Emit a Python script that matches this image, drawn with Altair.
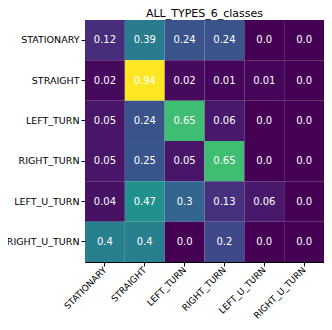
import altair as alt
import pandas as pd

classes = ["STATIONARY", "STRAIGHT", "LEFT_TURN", "RIGHT_TURN", "LEFT_U_TURN", "RIGHT_U_TURN"]
values = [
    [0.12, 0.39, 0.24, 0.24, 0.0, 0.0],
    [0.02, 0.94, 0.02, 0.01, 0.01, 0.0],
    [0.05, 0.24, 0.65, 0.06, 0.0, 0.0],
    [0.05, 0.25, 0.05, 0.65, 0.0, 0.0],
    [0.04, 0.47, 0.3, 0.13, 0.06, 0.0],
    [0.4, 0.4, 0.0, 0.2, 0.0, 0.0],
]
labels = [
    ["0.12", "0.39", "0.24", "0.24", "0.0", "0.0"],
    ["0.02", "0.94", "0.02", "0.01", "0.01", "0.0"],
    ["0.05", "0.24", "0.65", "0.06", "0.0", "0.0"],
    ["0.05", "0.25", "0.05", "0.65", "0.0", "0.0"],
    ["0.04", "0.47", "0.3", "0.13", "0.06", "0.0"],
    ["0.4", "0.4", "0.0", "0.2", "0.0", "0.0"],
]

rows = []
for i, t in enumerate(classes):
    for j, p in enumerate(classes):
        rows.append({"true": t, "pred": p, "v": values[i][j], "lab": labels[i][j]})
df = pd.DataFrame(rows)

font = "DejaVu Sans"
xenc = alt.X("pred:N", sort=classes, title=None,
             axis=alt.Axis(labelAngle=315, labelAlign="right", labelBaseline="middle",
                           labelFont=font, labelFontSize=9, labelColor="black",
                           tickColor="black", tickSize=4, domain=False, labelPadding=2))
yenc = alt.Y("true:N", sort=classes, title=None,
             axis=alt.Axis(labelFont=font, labelFontSize=9.5, labelColor="black",
                           tickColor="black", tickSize=4, domain=False, labelPadding=2))

base = alt.Chart(df).encode(x=xenc, y=yenc)
rect = base.mark_rect().encode(
    color=alt.Color("v:Q", scale=alt.Scale(scheme="viridis", domain=[0, 0.94]), legend=None)
)
text = base.mark_text(font=font, fontSize=10, color="white").encode(text="lab:N")

chart = (rect + text).properties(
    width=239, height=242,
    title=alt.TitleParams("ALL_TYPES_6_classes", font=font, fontSize=11, fontWeight="normal",
                          color="black", anchor="middle", offset=1),
    autosize=alt.AutoSizeParams(type="none"),
    padding={"left": 77, "top": 12, "right": 0, "bottom": 60},
).configure_scale(bandPaddingInner=0, bandPaddingOuter=0).configure_view(
    stroke="black", strokeWidth=1
)

chart.save("out.html", embed_options={"renderer": "svg", "actions": False})
